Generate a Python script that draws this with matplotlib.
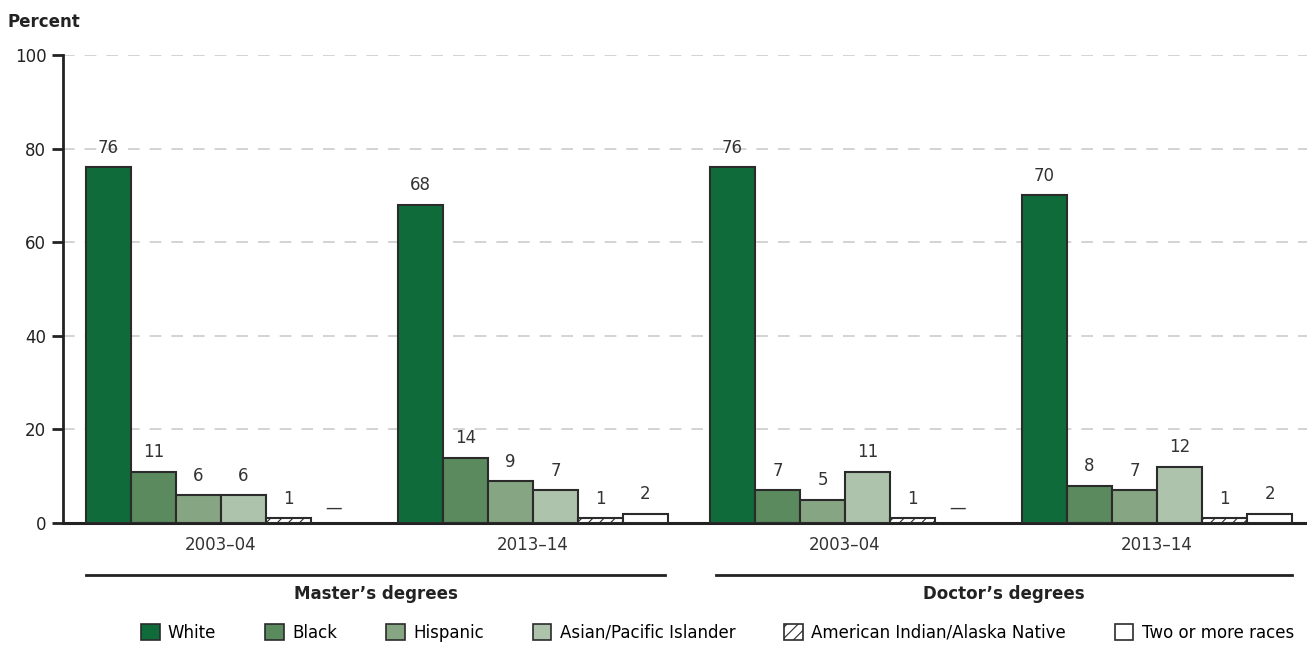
import numpy as np
import matplotlib
matplotlib.use("Agg")
import matplotlib.pyplot as plt
from matplotlib.lines import Line2D

plt.rcParams['font.family'] = ['DejaVu Sans']
plt.rcParams['hatch.color'] = '#1f7a45'
plt.rcParams['hatch.linewidth'] = 0.8

# data
years = ["2003\u201304", "2013\u201314", "2003\u201304", "2013\u201314"]
degrees = ["Master\u2019s degrees", "Doctor\u2019s degrees"]
races = ["White", "Black", "Hispanic", "Asian/Pacific Islander",
         "American Indian/Alaska Native", "Two or more races"]
white = [76, 68, 76, 70]
black = [11, 14, 7, 8]
hispanic = [6, 9, 5, 7]
asian = [6, 7, 11, 12]
aian = [1, 1, 1, 1]
two_more = [None, 2, None, 2]
series = [white, black, hispanic, asian, aian, two_more]

colors = ["#106b3a", "#5a8a5e", "#86a583", "#aec3ab", "white", "white"]
hatches = [None, None, None, None, "///", None]
edge = "#2b2b2b"

fig = plt.figure(figsize=(13.07, 6.53), dpi=100)
ax = fig.add_axes([0.0482, 0.199, 0.9518, 0.7168])

group_step = 6.933
group_x = np.arange(len(years)) * group_step

for k, vals in enumerate(series):
    for g, v in enumerate(vals):
        x = group_x[g] + k + 0.5
        if v is None:
            # not available
            ax.text(x, 3.3, "\u2014", ha="center", va="center", fontsize=12, color="#333333")
            continue
        ax.bar(x, v, width=1.0, color=colors[k], edgecolor=edge, linewidth=1.5,
               hatch=hatches[k], zorder=3)
        ax.annotate(str(v), (x, v), xytext=(0, 7.5), textcoords="offset points",
                    ha="center", va="bottom", fontsize=12, color="#333333")

ax.set_ylim(0, 100)
ax.set_xlim(-0.511, 27.13)
ax.set_yticks([0, 20, 40, 60, 80, 100])
ax.tick_params(axis="y", length=8, width=2, labelsize=12, colors="#222222", pad=4)
ax.yaxis.grid(True, linestyle=(0, (7, 6)), color="#cccccc", linewidth=1.2, zorder=0)
ax.set_axisbelow(True)

ax.set_xticks(group_x + 3)
ax.set_xticklabels(years, fontsize=12, color="#333333")
ax.tick_params(axis="x", length=0, pad=9)

for s in ["top", "right"]:
    ax.spines[s].set_visible(False)
ax.spines["left"].set_linewidth(2)
ax.spines["bottom"].set_linewidth(2.2)
ax.spines["left"].set_color("#222222")
ax.spines["bottom"].set_color("#222222")

# degree brackets under the year labels
trans = ax.get_xaxis_transform()
spans = [(group_x[0], group_x[1] + 6 - 0.07), (group_x[2] + 0.13, group_x[3] + 6)]
for (x0, x1), name in zip(spans, degrees):
    ax.add_line(Line2D([x0, x1], [-0.111, -0.111], transform=trans, color="#222222",
                       linewidth=2, clip_on=False))
    ax.text((x0 + x1) / 2, -0.152, name, transform=trans, ha="center", va="center",
            fontsize=12, fontweight="bold", color="#222222")

fig.text(0.006, 0.966, "Percent", fontsize=12, fontweight="bold", color="#222222",
         ha="left", va="center")

handles = [plt.Rectangle((0, 0), 1, 1, facecolor=colors[k], edgecolor=edge,
                         linewidth=1.2, hatch=hatches[k]) for k in range(len(races))]
fig.legend(handles, races, loc="center", bbox_to_anchor=(0.549, 0.031), ncol=6,
           frameon=False, fontsize=12, handlelength=1.1, handleheight=1.1,
           handletextpad=0.5, columnspacing=2.95)

fig.savefig("out.png", dpi=100)
